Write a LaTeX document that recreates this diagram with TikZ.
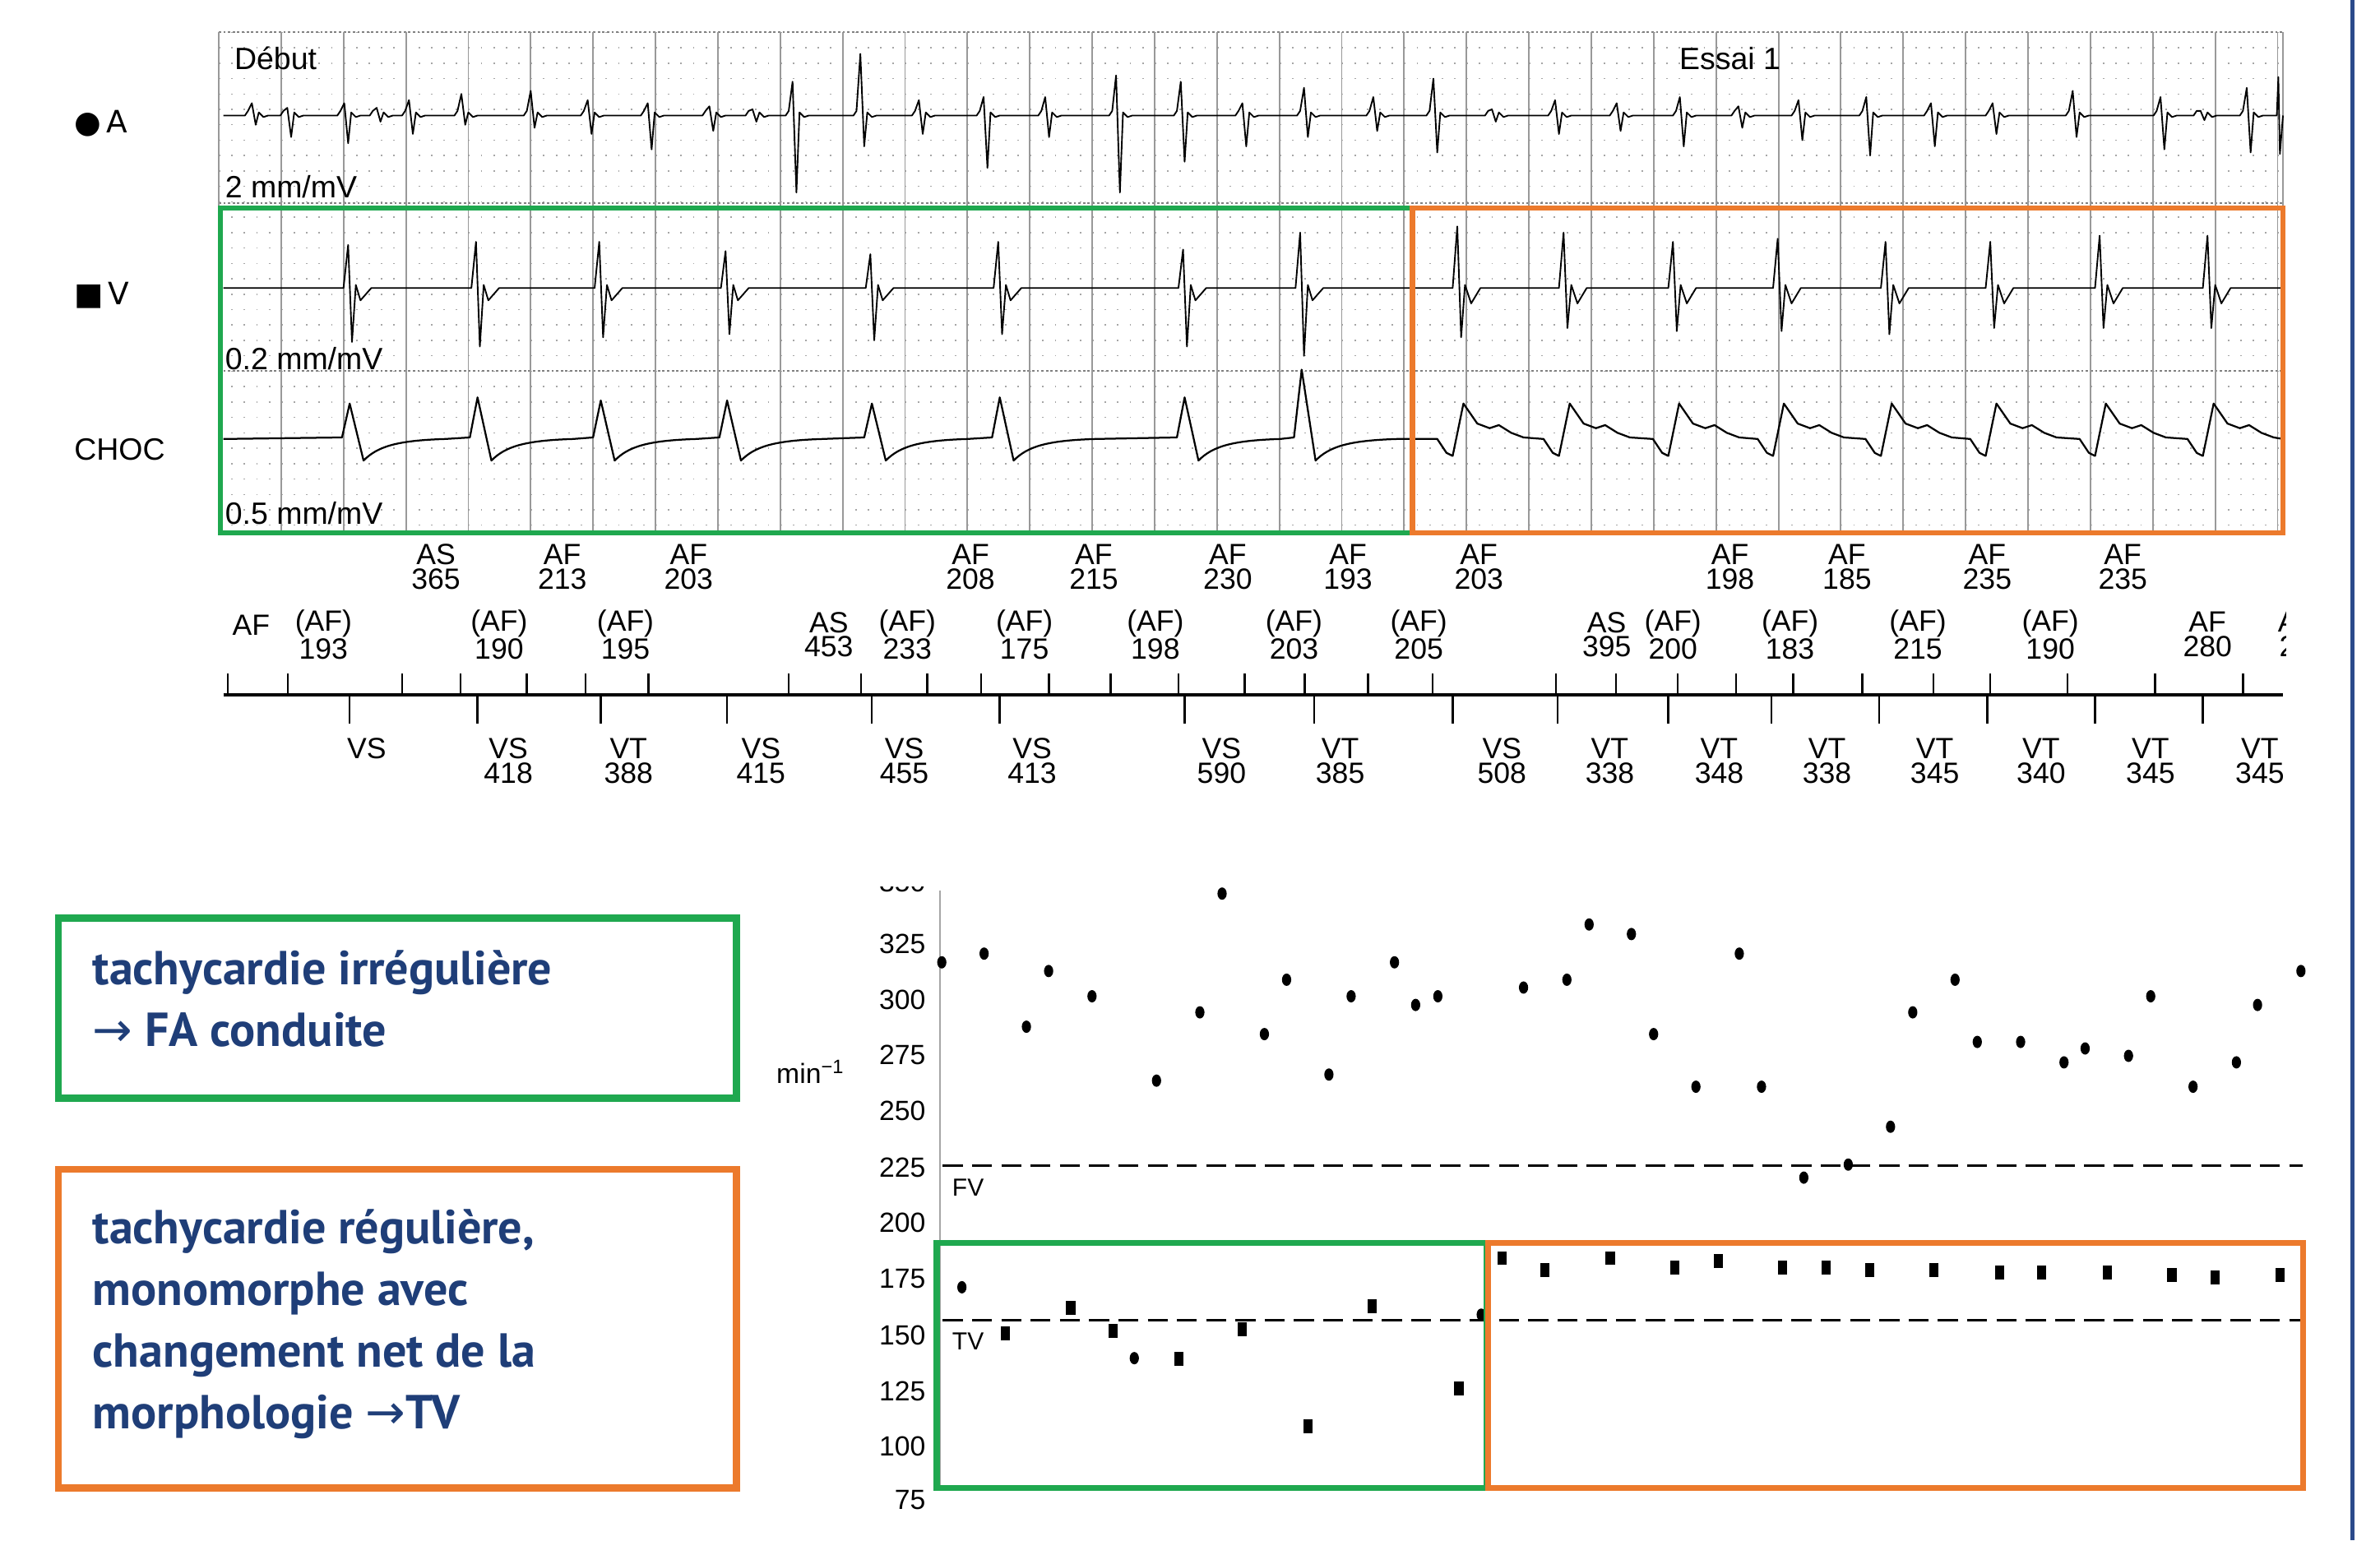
\documentclass[tikz,border=0pt]{standalone}
\usepackage{fontspec}
\setmainfont{Liberation Sans}
\newfontfamily\boxfont{PT Sans}
\newfontfamily\arrowfont{DejaVu Sans}
\usetikzlibrary{positioning}
\definecolor{ecggreen}{HTML}{1FA84F}
\definecolor{ecgorange}{HTML}{EC7A2C}
\definecolor{navy}{HTML}{1F3E78}
\definecolor{rule}{HTML}{2B4A8B}
\tikzset{
  evt/.style={align=center,inner sep=0pt,font=\fontsize{19}{16}\selectfont},
  lbl/.style={inner sep=0pt,anchor=west,font=\fontsize{20}{20}\selectfont},
  tick/.style={inner sep=0pt,anchor=east,font=\fontsize{18}{18}\selectfont},
  note/.style={anchor=north west,align=left,inner sep=0pt,text=navy,font=\boxfont\bfseries\fontsize{31}{40}\selectfont},
  sqmark/.style={fill=black,minimum width=6pt,minimum height=9pt,inner sep=0pt},
  spot/.style={fill=black,ellipse,minimum width=6pt,minimum height=8pt,inner sep=0pt},
  trace/.style={line width=1.2pt,line join=round}
}
\usetikzlibrary{shapes.geometric}
\begin{document}
\begin{tikzpicture}[x=1pt,y=-1pt]
\useasboundingbox (0,0) rectangle (1545,1000);
% ECG grid
\foreach \y in {21,31,...,345}
  \draw[gray!70,line width=0.8pt,dash pattern=on 1pt off 7.1pt] (142,\y) -- (1482,\y);
\foreach \y in {21,132,241}
  \draw[gray,line width=1pt,dash pattern=on 1.5pt off 1.5pt] (142,\y) -- (1482,\y);
\foreach \k in {0,...,33}
  \draw[gray!80,line width=1pt] ({142+40.5*\k},21) -- ({142+40.5*\k},345);
\draw[gray!80,line width=1pt] (1482,21) -- (1482,345);
% channel A
\draw[trace,line width=1pt] (145,75)
  \foreach \x/\u/\d in {165/8/6,188/5/14,225/8/18,246/5/4,267/10/12,301/14/6,346/16/8,383/10/12,422/8/22,
    462/6/10,490/4/4,516/22/50,560/40/20,598/10/12,640/12/34,680/12/14,726/26/50,768/22/30,
    808/8/20,848/18/14,893/12/10,932/24/24,970/4/4,1011/10/12,1051/8/10,1092/12/20,1130/6/8,
    1169/10/16,1213/12/26,1255/8/20,1295/8/12,1347/16/14,1404/12/22,1430/3/3,1460/18/24}
  { -- ({\x-6},75) -- ({\x-4},72) -- ({\x-1.5},{75-\u}) -- ({\x+1},{75+\d}) -- ({\x+3},73) -- ({\x+6},76) -- ({\x+9},75) }
  -- (1478,75) -- (1479,50) -- (1480,100) -- (1482,75);
% channel V
\draw[trace,line width=1pt] (145,187)
  \foreach \x/\u/\d in {227/28/35,310/30/38,390/30/32,472/24/30,566/22/34,649/30/30,769/25/38,845/36/44}
  { -- ({\x-4},187) -- ({\x-1},{187-\u}) -- ({\x+1.5},{187+\d}) -- ({\x+4},185) -- ({\x+7},195) -- ({\x+14},187) }
  \foreach \x/\u/\d in {947/40/32,1016/36/26,1087/30/28,1155/32/28,1225/30/30,1293/30/26,1364/34/26,1434/34/26}
  { -- ({\x-4},187) -- ({\x-1},{187-\u}) -- ({\x+1.5},{187+\d}) -- ({\x+4},185) -- ({\x+8},197) -- ({\x+14},187) }
  -- (1482,187);
% channel CHOC
\draw[trace] (145,285)
  \foreach \x/\u in {227/22,310/26,390/24,472/24,566/22,649/26,769/26,845/44}
  { -- ({\x-5},284) -- (\x,{284-\u}) -- ({\x+9},299) .. controls ({\x+18},290) and ({\x+30},286) .. ({\x+62},285) }
  -- (930,285)
  \foreach \x in {947,1016,1087,1155,1225,1293,1364,1434}
  { -- ({\x-14},285) -- ({\x-8},294) -- ({\x-4},296) -- ({\x+3},262) -- ({\x+12},275) -- ({\x+20},278)
    -- ({\x+26},276) -- ({\x+34},281) -- ({\x+42},284) }
  -- (1482,285);
% labels of the strip
\node[lbl] (debut) at (152,38) {Début};
\node[lbl] (essai) at (1090,38) {Essai 1};
\node[lbl] (gainA) at (146,121) {2 mm/mV};
\node[lbl] (gainV) at (146,233) {0.2 mm/mV};
\node[lbl] (gainC) at (146,333) {0.5 mm/mV};
\node[lbl] (chA) at (48,80) {\arrowfont ●\,A};
\node[lbl] (chV) at (48,192) {\arrowfont ■\,V};
\node[lbl] (chC) at (48,292) {CHOC};
% highlight frames
\draw[ecggreen,line width=3.5pt] (917,135) -- (143,135) -- (143,346) -- (917,346);
\draw[ecgorange,line width=3.5pt] (917,135) rectangle (1482,346);
% marker row 1
\foreach \x/\t [count=\i] in {283/AS\\365,365/AF\\213,447/AF\\203,630/AF\\208,710/AF\\215,797/AF\\230,
    875/AF\\193,960/AF\\203,1123/AF\\198,1199/AF\\185,1290/AF\\235,1378/AF\\235}
  \node[evt] (top\i) at (\x,368) {\t};
% marker row 2
\begin{scope}
\clip (140,385) rectangle (1484,520);
\node[evt] (first) at (163,406) {AF};
\foreach \x/\t [count=\i] in {210/(AF)\\193,324/(AF)\\190,406/(AF)\\195,538/AS\\453,589/(AF)\\233,
    665/(AF)\\175,750/(AF)\\198,840/(AF)\\203,921/(AF)\\205,1043/AS\\395,1086/(AF)\\200,1162/(AF)\\183,
    1245/(AF)\\215,1331/(AF)\\190,1433/AF\\280,1485/A\\2}
  \node[evt] (mid\i) at (\x,412) {\t};
% ventricular labels
\node[evt] (vs0) at (238,486) {VS};
\foreach \x/\t [count=\i] in {330/VS\\418,408/VT\\388,494/VS\\415,587/VS\\455,670/VS\\413,793/VS\\590,
    870/VT\\385,975/VS\\508,1045/VT\\338,1116/VT\\348,1186/VT\\338,1256/VT\\345,1325/VT\\340,
    1396/VT\\345,1467/VT\\345}
  \node[evt] (bot\i) at (\x,494) {\t};
\end{scope}
% time line
\coordinate (t0) at (145,451);
\coordinate (t1) at (1482,451);
\draw[line width=2pt] (t0) -- (t1);
\foreach \x in {148,187,261,299,342,380,421,512,559,602,637,681,721,765,808,847,888,930,
    1010,1049,1089,1127,1164,1209,1255,1292,1342,1399,1456}
  \draw[line width=1.3pt] (\x,451) -- (\x,437);
\foreach \x in {227,310,390,472,566,649,769,853,943,1011,1083,1150,1220,1290,1360,1430}
  \draw[line width=1.3pt] (\x,451) -- (\x,470);
% rate chart
\draw[gray!70,line width=1pt] (610,578) -- (610,966);
\foreach \v/\y in {325/613,300/649,275/685,250/721,225/758,200/794,175/830,150/867,125/903,100/939,75/974}
  \node[tick] (r\v) at (601,\y) {\v};
\begin{scope}
\clip (560,576) rectangle (620,590);
\node[tick] (r350) at (601,573) {350};
\end{scope}
\node[inner sep=0pt,font=\fontsize{18}{18}\selectfont] (unit) at (526,696) {min\textsuperscript{−1}};
\draw[line width=1.6pt,dash pattern=on 13pt off 6pt] (612,757) -- (1495,757);
\draw[line width=1.6pt,dash pattern=on 13pt off 6pt] (612,857) -- (1495,857);
\node[inner sep=0pt,anchor=west,font=\fontsize{16}{16}\selectfont] (fv) at (618,771) {FV};
\node[inner sep=0pt,anchor=west,font=\fontsize{16}{16}\selectfont] (tv) at (618,871) {TV};
\foreach \zx/\zy [count=\i] in {178/200,218/180,258/348,279/220,320/278,381/472,422/315,443/42,483/365,
    504/240,544/458,565/278,606/200,626/298,647/278,728/258,769/240,790/113,830/135,851/365,891/486,
    932/180,953/486,993/695,1035/665,1075/578,1096/315,1136/240,1157/383,1198/383,1239/430,1259/398,
    1300/415,1321/278,1361/486,1402/430,1422/298,1463/220,197/947,360/1110,688/1010}
  \node[spot] (p\i) at ({610+(\zx-176)*0.6866},{605+(\zy-130)*0.2824}) {};
\foreach \zx/\zy [count=\i] in {238/1053,300/995,340/1048,402/1112,462/1043,524/1267,585/990,667/1180,
    708/880,748/907,810/880,871/902,912/887,973/902,1014/902,1055/907,1116/907,1178/913,1218/913,
    1280/913,1341/918,1382/925,1443/918}
  \node[sqmark] (q\i) at ({610+(\zx-176)*0.6866},{605+(\zy-130)*0.2824}) {};
\draw[ecggreen,line width=4pt] (608,807) rectangle (965,966);
\draw[ecgorange,line width=4pt] (966,807) rectangle (1495,966);
% notes
\draw[ecggreen,line width=4.5pt] (38,596) rectangle (478,713);
\node[note] (noteFA) at (60,617) {tachycardie irrégulière\\{\arrowfont\mdseries →} FA conduite};
\draw[ecgorange,line width=4.5pt] (38,759) rectangle (478,966);
\node[note] (noteTV) at (60,785) {tachycardie régulière,\\monomorphe avec\\changement net de la\\morphologie {\arrowfont\mdseries →}TV};
% side rule
\draw[rule,line width=3pt] (1527,0) -- (1527,1000);
\end{tikzpicture}
\end{document}
